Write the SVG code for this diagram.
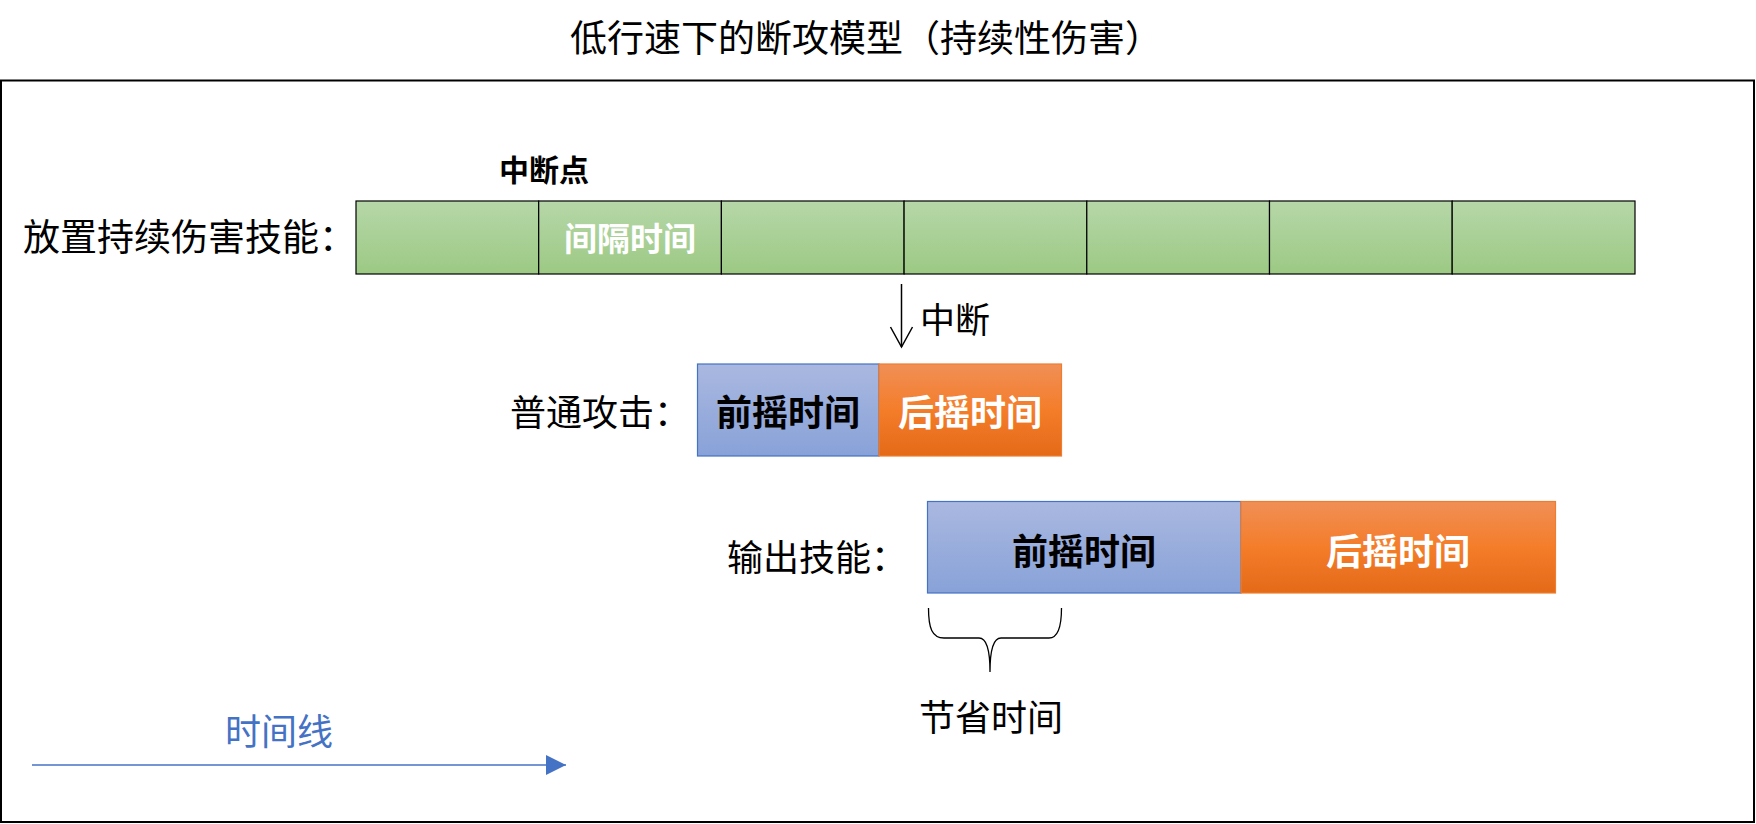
<svg xmlns="http://www.w3.org/2000/svg" width="1756" height="824" viewBox="0 0 1756 824">
<style>
text{font-family:"Noto Sans CJK SC","Microsoft YaHei",sans-serif;dominant-baseline:central}
.lbl{font-size:36px;fill:#000}
.mid{text-anchor:middle}
.bold{font-weight:bold}
.cell{fill:url(#gGreen);stroke:#000;stroke-width:1.2}
</style>
<defs>
<linearGradient id="gGreen" x1="0" y1="0" x2="0" y2="1"><stop offset="0" stop-color="#B6D7A8"/><stop offset="1" stop-color="#9CC984"/></linearGradient>
<linearGradient id="gBlue" x1="0" y1="0" x2="0" y2="1"><stop offset="0" stop-color="#AAB8E0"/><stop offset="1" stop-color="#88A2D8"/></linearGradient>
<linearGradient id="gOrange" x1="0" y1="0" x2="0" y2="1"><stop offset="0" stop-color="#F08F56"/><stop offset="0.5" stop-color="#F47D2A"/><stop offset="1" stop-color="#E46A18"/></linearGradient>
<marker id="triArrow" markerWidth="22" markerHeight="22" refX="20" refY="10" orient="auto" markerUnits="userSpaceOnUse"><path d="M0,0 L20,10 L0,20 Z" fill="#4472C4"/></marker>
</defs>
<rect width="1756" height="824" fill="#fff"/>
<text id="title" class="mid" x="866" y="36" style="font-size:37px">低行速下的断攻模型（持续性伤害）</text>
<rect id="frame" x="1" y="80.5" width="1753" height="741.5" fill="none" stroke="#000" stroke-width="2"/>

<g id="dot-skill">
<text class="lbl" x="23" y="235" style="font-size:37px">放置持续伤害技能：</text>
<rect class="cell" x="356" y="201" width="182.7" height="73"/>
<rect class="cell" x="538.7" y="201" width="182.7" height="73"/>
<rect class="cell" x="721.4" y="201" width="182.7" height="73"/>
<rect class="cell" x="904.1" y="201" width="182.7" height="73"/>
<rect class="cell" x="1086.8" y="201" width="182.7" height="73"/>
<rect class="cell" x="1269.5" y="201" width="182.7" height="73"/>
<rect class="cell" x="1452.2" y="201" width="182.8" height="73"/>
<text class="mid bold" x="630" y="237" style="font-size:33px;fill:#fff">间隔时间</text>
<text class="mid bold" x="544" y="168" style="font-size:30px">中断点</text>
</g>

<g id="normal-attack">
<text class="lbl" x="510" y="410">普通攻击：</text>
<rect x="697.5" y="364" width="181.5" height="92" fill="url(#gBlue)" stroke="#4472C4" stroke-width="1.2"/>
<rect x="879" y="364" width="182.5" height="92" fill="url(#gOrange)" stroke="#ED7D31" stroke-width="1.2"/>
<text class="lbl mid bold" x="788" y="410">前摇时间</text>
<text class="lbl mid bold" x="970" y="410" style="fill:#fff">后摇时间</text>
</g>

<g id="output-skill">
<text class="lbl" x="727" y="555">输出技能：</text>
<rect x="927.5" y="501.5" width="313.5" height="91.5" fill="url(#gBlue)" stroke="#4472C4" stroke-width="1.2"/>
<rect x="1241" y="501.5" width="314.5" height="91.5" fill="url(#gOrange)" stroke="#ED7D31" stroke-width="1.2"/>
<text class="lbl mid bold" x="1084" y="549">前摇时间</text>
<text class="lbl mid bold" x="1398" y="549" style="fill:#fff">后摇时间</text>
</g>

<g id="saved-time">
<path d="M928.5,608 C928.5,628 932,638 944,638 L979,638 C987,638 990,650 990,672 C990,650 993,638 1001,638 L1049,638 C1058,638 1061.5,628 1061.5,608" fill="none" stroke="#000" stroke-width="1.3"/>
<text class="lbl mid" x="991" y="715">节省时间</text>
</g>

<g id="timeline">
<text class="lbl" x="225" y="729" style="fill:#4472C4">时间线</text>
</g>

<g id="connectors">
<line x1="901.5" y1="284" x2="901.5" y2="347" stroke="#000" stroke-width="1.5"/>
<path d="M890.5,327 L901.5,347 L912.5,327" fill="none" stroke="#000" stroke-width="1.5"/>
<text class="lbl" x="920" y="317" style="font-size:35px">中断</text>
<line x1="32" y1="765" x2="566" y2="765" stroke="#4472C4" stroke-width="1.5" marker-end="url(#triArrow)"/>
</g>
</svg>
